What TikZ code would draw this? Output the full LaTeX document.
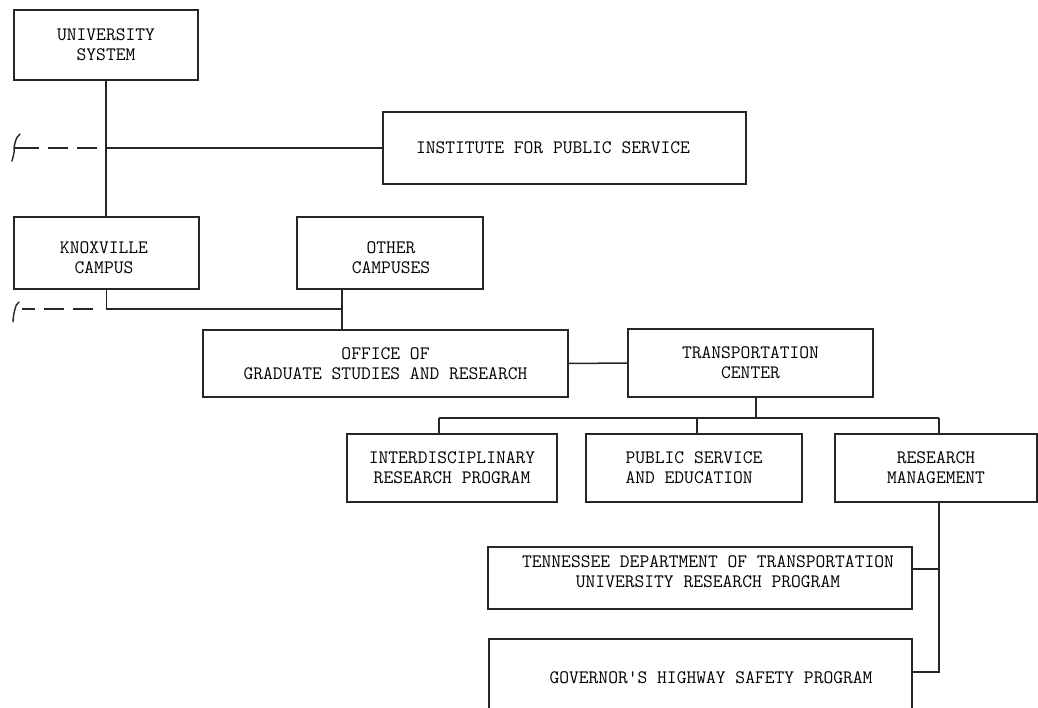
\documentclass[tikz,border=0pt]{standalone}
\begin{document}
\begin{tikzpicture}[x=1pt,y=-1pt,
  box/.style={draw=black!85,line width=1.5pt,inner sep=0pt,align=center,
    font=\fontsize{19}{20}\selectfont\ttfamily,text=black},
  lbl/.style={font=\fontsize{19}{20}\selectfont\ttfamily,text=black,align=center},
  conn/.style={draw=black!85,line width=1.5pt},
  dashconn/.style={draw=black!85,line width=1.5pt,dash pattern=on 20pt off 9pt},
  brace/.style={draw=black!85,line width=1.4pt,line cap=round}]
\useasboundingbox (0,0) rectangle (1038,708);
\clip (0,0) rectangle (1038,708);
\fill[white] (0,0) rectangle (1038,708);
% boxes
\node[box,minimum width=184,minimum height=70] (us) at (106,45) {UNIVERSITY\\SYSTEM};
\node[box,minimum width=363,minimum height=72] (ips) at (564.5,148) {};
\node[lbl] (ipst) at (553,148) {INSTITUTE FOR PUBLIC SERVICE};
\node[box,minimum width=185,minimum height=72] (kc) at (106.5,253) {};
\node[lbl] (kct) at (104,258) {KNOXVILLE\\CAMPUS};
\node[box,minimum width=186,minimum height=72] (oc) at (390,253) {};
\node[lbl] (oct) at (391,258) {OTHER\\CAMPUSES};
\node[box,minimum width=365,minimum height=67] (off) at (385.5,363.5) {OFFICE OF\\GRADUATE STUDIES AND RESEARCH};
\node[box,minimum width=245,minimum height=68] (tc) at (750.5,363) {TRANSPORTATION\\CENTER};
\node[box,minimum width=210,minimum height=68] (idp) at (452,468) {INTERDISCIPLINARY\\RESEARCH PROGRAM};
\node[box,minimum width=216,minimum height=68,align=left] (ps) at (694,468) {PUBLIC SERVICE\\AND EDUCATION};
\node[box,minimum width=202,minimum height=68] (rm) at (936,468) {RESEARCH\\MANAGEMENT};
\node[box,minimum width=424,minimum height=62] (tdot) at (700,578) {};
\node[lbl] (tdott) at (708,572) {TENNESSEE DEPARTMENT OF TRANSPORTATION\\UNIVERSITY RESEARCH PROGRAM};
\node[box,minimum width=423,minimum height=100] (gh) at (700.5,689) {};
\node[lbl] (ght) at (711,678) {GOVERNOR'S HIGHWAY SAFETY PROGRAM};
% connectors top-left
\draw[conn] (us.south) -- (us.south |- kc.north);
\draw[conn] (us.south |- ips.west) -- (ips.west);
\coordinate (e1) at (97,148);
\coordinate (b1) at (14,148);
\draw[dashconn] (e1) -- (30,148);
\draw[conn] (32,148) -- (b1);
\draw[brace] (20,134) .. controls (15,138) and (15,144) .. (b1) .. controls (15,152) and (13,156) .. (12,161);
% knoxville / other campuses
\coordinate (j1) at (342,309);
\draw[conn] (kc.south) |- (j1);
\draw[conn] (oc.south -| j1) -- (j1 |- off.north);
\coordinate (e2) at (93,309);
\coordinate (b2) at (15,309);
\draw[dashconn] (e2) -- (22,309);
\draw[brace] (19,302) .. controls (16,304) and (16,306) .. (b2) .. controls (14,313) and (13,318) .. (13,322);
% office - tc
\draw[conn] (off.east) -- (tc.west);
% tc bus
\coordinate (t1) at (756,418);
\coordinate (d1) at (439,418);
\coordinate (d2) at (697,418);
\coordinate (d3) at (939,418);
\draw[conn] (t1 |- tc.south) -- (t1);
\draw[conn] (d1) -- (d3);
\draw[conn] (d1) -- (d1 |- idp.north);
\draw[conn] (d2) -- (d2 |- ps.north);
\draw[conn] (d3) -- (d3 |- rm.north);
% research management
\coordinate (r1) at (939,569);
\coordinate (r2) at (939,672);
\draw[conn] (r1 |- rm.south) -- (r2) -- (r2 -| gh.east);
\draw[conn] (r1) -- (r1 -| tdot.east);
\end{tikzpicture}
\end{document}
